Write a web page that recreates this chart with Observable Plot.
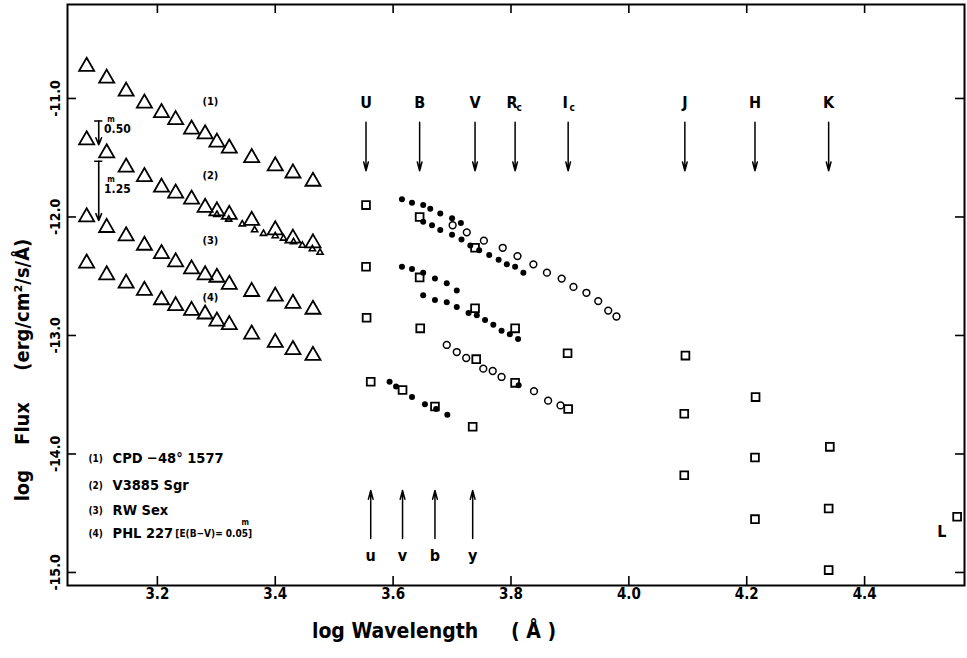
<!DOCTYPE html>
<html><head><meta charset="utf-8">
<script src="https://cdn.jsdelivr.net/npm/d3@7"></script>
<script src="https://cdn.jsdelivr.net/npm/@observablehq/plot@0.6"></script>
<style>
html,body{margin:0;padding:0;background:#fff;}
#chart svg text{font-weight:bold;}
</style></head><body><div id="chart"></div>
<script>
// ---------- axes ----------
const xDomain = [3.0475, 4.5695];
const yDomain = [-15.11, -10.207];
const xTicks = [3.2, 3.4, 3.6, 3.8, 4.0, 4.2, 4.4];
const yTicks = [-11, -12, -13, -14, -15];

// ---------- IUE ultraviolet fluxes (large triangles) ----------
const iueLogLam = [3.080, 3.114, 3.147, 3.178, 3.207, 3.231, 3.258, 3.281, 3.301, 3.322, 3.360, 3.400, 3.430, 3.464];
const iueFlux1 = [-10.73, -10.83, -10.94, -11.04, -11.12, -11.18, -11.26, -11.30, -11.37, -11.42, -11.50, -11.57, -11.63, -11.70];
const iueFlux2 = [-11.35, -11.46, -11.58, -11.66, -11.75, -11.80, -11.85, -11.92, -11.95, -11.98, -12.03, -12.11, -12.18, -12.22];
const iueFlux3 = [-12.00, -12.09, -12.16, -12.24, -12.31, -12.38, -12.44, -12.49, -12.51, -12.57, -12.63, -12.67, -12.73, -12.78];
const iueFlux4 = [-12.39, -12.49, -12.56, -12.62, -12.70, -12.75, -12.79, -12.82, -12.88, -12.91, -12.99, -13.06, -13.12, -13.17];

// second epoch (small triangles) for (2)
const iueSmallLogLam = [3.301, 3.321, 3.344, 3.365, 3.380, 3.400, 3.414, 3.431, 3.446, 3.463, 3.476];
const iueSmallFlux2 = [-11.98, -12.02, -12.06, -12.11, -12.14, -12.16, -12.18, -12.21, -12.24, -12.27, -12.30];

// ---------- optical spectrophotometry (filled dots) ----------
const specALogLam = [3.615, 3.632, 3.651, 3.663, 3.680, 3.700, 3.715];
const specAFlux = [-11.85, -11.88, -11.90, -11.93, -11.97, -12.01, -12.05];
const specBLogLam = [3.651, 3.666, 3.680, 3.700, 3.716, 3.731, 3.746, 3.763, 3.779, 3.793, 3.807, 3.821];
const specBFlux = [-12.04, -12.07, -12.11, -12.15, -12.19, -12.24, -12.28, -12.32, -12.36, -12.40, -12.42, -12.47];
const specCLogLam = [3.615, 3.632, 3.651, 3.671, 3.691, 3.708];
const specCFlux = [-12.42, -12.44, -12.47, -12.52, -12.56, -12.62];
const specDLogLam = [3.651, 3.671, 3.691, 3.708, 3.728, 3.742, 3.756, 3.770, 3.784, 3.798, 3.812];
const specDFlux = [-12.66, -12.70, -12.72, -12.76, -12.81, -12.83, -12.87, -12.91, -12.96, -12.99, -13.03];
const specELogLam = [3.594, 3.605, 3.632, 3.654, 3.673, 3.692, 3.813];
const specEFlux = [-13.39, -13.43, -13.52, -13.58, -13.62, -13.67, -13.42];

// ---------- spectrophotometry (open circles) ----------
const circALogLam = [3.701, 3.725, 3.754, 3.786, 3.811, 3.838, 3.861, 3.886, 3.906, 3.928, 3.948, 3.965, 3.979];
const circAFlux = [-12.07, -12.13, -12.20, -12.26, -12.33, -12.40, -12.47, -12.52, -12.59, -12.64, -12.71, -12.79, -12.84];
const circBLogLam = [3.691, 3.708, 3.724, 3.753, 3.769, 3.784, 3.839, 3.863, 3.884];
const circBFlux = [-13.08, -13.14, -13.19, -13.28, -13.30, -13.35, -13.47, -13.55, -13.59];

// ---------- broad-band photometry (open squares) ----------
const photLogLam = [3.554, 3.554, 3.555, 3.645, 3.645, 3.646, 3.739, 3.739, 3.741, 3.807, 3.807, 3.896, 3.897,
                    4.096, 4.094, 4.094, 4.215, 4.214, 4.214, 4.341, 4.339, 4.339, 4.557,
                    3.562, 3.616, 3.671, 3.735];
const photFlux = [-11.90, -12.42, -12.85, -12.00, -12.51, -12.94, -12.26, -12.77, -13.20, -12.94, -13.40, -13.15, -13.62,
                  -13.17, -13.66, -14.18, -13.52, -14.03, -14.55, -13.94, -14.46, -14.98, -14.53,
                  -13.39, -13.46, -13.60, -13.77];

// ---------- passbands ----------
const bandNames = ["U", "B", "V", "R", "I", "J", "H", "K"];
const bandSubs = ["", "", "", "c", "c", "", "", ""];
const bandLogLam = [3.554, 3.645, 3.739, 3.807, 3.897, 4.095, 4.214, 4.339];
const bandArrowFlux = [-11.20, -11.61];
const bandLabelFlux = -11.034;
const stromNames = ["u", "v", "b", "y"];
const stromLogLam = [3.562, 3.616, 3.671, 3.735];
const stromArrowFlux = [-14.713, -14.308];
const stromLabelFlux = -14.857;
const lBand = {name: "L", x: 4.531, y: -14.66};

// ---------- annotations ----------
const seriesTags = ["(1)", "(2)", "(3)", "(4)"];
const seriesTagFlux = [-11.023, -11.65, -12.198, -12.677];
const seriesTagLogLam = 3.29;
const offsetLabels = ["0.50", "1.25"];
const offsetTop = [-11.19, -11.53];
const offsetBottom = [-11.39, -12.03];
const offsetLabelFlux = [-11.262, -11.768];
const offsetLogLam = 3.1005;
const starTags = ["(1)", "(2)", "(3)", "(4)"];
const starNames = ["CPD \u221248\u00b0 1577", "V3885 Sgr", "RW Sex", "PHL 227"];
const starFlux = [-14.038, -14.266, -14.477, -14.671];
const reddeningNote = "[E(B\u2212V)= 0.05]";

const pts = (xs, ys) => xs.map((x, i) => ({x, y: ys[i]}));

const W = 967, H = 658, mL = 67, mR = 3, mT = 4, mB = 73;
const fw = W - mL - mR, fh = H - mT - mB, tk = 9;
const FONT = '"Liberation Sans Narrow","DejaVu Sans Condensed","Liberation Sans",sans-serif';

const bands = bandNames.map((n, i) => ({n, s: bandSubs[i], x: bandLogLam[i]}));
const stroms = stromNames.map((n, i) => ({n, x: stromLogLam[i]}));
const offs = offsetLabels.map((t, i) => ({t, x: offsetLogLam, y1: offsetTop[i], y2: offsetBottom[i], ly: offsetLabelFlux[i]}));
const stars = starNames.map((n, i) => ({tag: starTags[i], n, y: starFlux[i]}));

const chart = Plot.plot({
  width: W, height: H,
  marginLeft: mL, marginRight: mR, marginTop: mT, marginBottom: mB,
  x: {domain: xDomain},
  y: {domain: yDomain},
  style: {fontFamily: FONT, background: "white", color: "black"},
  marks: [
    Plot.frame({stroke: "black", strokeWidth: 2}),
    Plot.tickX(xTicks, {x: d => d, insetTop: fh - tk, strokeWidth: 1.6}),
    Plot.tickX(xTicks, {x: d => d, insetBottom: fh - tk, strokeWidth: 1.6}),
    Plot.tickY(yTicks, {y: d => d, insetRight: fw - tk, strokeWidth: 1.6}),
    Plot.tickY(yTicks, {y: d => d, insetLeft: fw - tk, strokeWidth: 1.6}),
    Plot.axisX({ticks: xTicks, tickSize: 0, tickPadding: 3, tickFormat: d => d.toFixed(1), fontSize: 15, label: null}),
    Plot.axisY({ticks: yTicks, tickSize: 0, tickPadding: 8, tickRotate: -90, tickFormat: d => d.toFixed(1), fontSize: 14, label: null}),
    Plot.text(["log Wavelength\u00a0\u00a0\u00a0\u00a0\u00a0(\u00a0\u00c5\u00a0)"], {frameAnchor: "bottom", dy: 52, dx: -82, fontSize: 21}),
    Plot.text(["log\u00a0\u00a0\u00a0\u00a0Flux\u00a0\u00a0\u00a0\u00a0\u00a0(erg/cm\u00b2/s/\u00c5)"], {frameAnchor: "left", textAnchor: "middle", dx: -45, dy: 75, rotate: -90, fontSize: 20}),

    // triangles
    Plot.dot(pts(iueLogLam, iueFlux1), {x: "x", y: "y", symbol: "triangle", r: 5.6, stroke: "black", strokeWidth: 1.8, fill: "none"}),
    Plot.dot(pts(iueLogLam, iueFlux2), {x: "x", y: "y", symbol: "triangle", r: 5.6, stroke: "black", strokeWidth: 1.8, fill: "none"}),
    Plot.dot(pts(iueLogLam, iueFlux3), {x: "x", y: "y", symbol: "triangle", r: 5.6, stroke: "black", strokeWidth: 1.8, fill: "none"}),
    Plot.dot(pts(iueLogLam, iueFlux4), {x: "x", y: "y", symbol: "triangle", r: 5.6, stroke: "black", strokeWidth: 1.8, fill: "none"}),
    Plot.dot(pts(iueSmallLogLam, iueSmallFlux2), {x: "x", y: "y", symbol: "triangle", r: 2.3, stroke: "black", strokeWidth: 1.6, fill: "none"}),

    // dots & circles
    Plot.dot(pts(specALogLam, specAFlux), {x: "x", y: "y", r: 3, fill: "black"}),
    Plot.dot(pts(specBLogLam, specBFlux), {x: "x", y: "y", r: 3, fill: "black"}),
    Plot.dot(pts(specCLogLam, specCFlux), {x: "x", y: "y", r: 3, fill: "black"}),
    Plot.dot(pts(specDLogLam, specDFlux), {x: "x", y: "y", r: 3, fill: "black"}),
    Plot.dot(pts(specELogLam, specEFlux), {x: "x", y: "y", r: 3, fill: "black"}),
    Plot.dot(pts(circALogLam, circAFlux), {x: "x", y: "y", r: 3.4, stroke: "black", strokeWidth: 1.5, fill: "none"}),
    Plot.dot(pts(circBLogLam, circBFlux), {x: "x", y: "y", r: 3.4, stroke: "black", strokeWidth: 1.5, fill: "none"}),

    // squares
    Plot.dot(pts(photLogLam, photFlux), {x: "x", y: "y", symbol: "square", r: 4.4, stroke: "black", strokeWidth: 1.8, fill: "none"}),

    // passband arrows and labels
    Plot.arrow(bands, {x1: "x", x2: "x", y1: () => bandArrowFlux[0], y2: () => bandArrowFlux[1], headLength: 9, headAngle: 30, strokeWidth: 1.5}),
    Plot.text(bands.filter(d => !d.s), {x: "x", y: () => bandLabelFlux, text: "n", fontSize: 16}),
    Plot.text(bands.filter(d => d.s), {x: "x", y: () => bandLabelFlux, text: "n", fontSize: 16, dx: -3}),
    Plot.text(bands.filter(d => d.s), {x: "x", y: () => bandLabelFlux, text: "s", fontSize: 10, dx: 4, dy: 5}),
    Plot.arrow(stroms, {x1: "x", x2: "x", y1: () => stromArrowFlux[0], y2: () => stromArrowFlux[1], headLength: 9, headAngle: 30, strokeWidth: 1.5}),
    Plot.text(stroms, {x: "x", y: () => stromLabelFlux, text: "n", fontSize: 16}),
    Plot.text([lBand], {x: "x", y: "y", text: "name", fontSize: 16}),

    // series tags
    Plot.text(seriesTags.map((t, i) => ({t, y: seriesTagFlux[i]})), {x: () => seriesTagLogLam, y: "y", text: "t", fontSize: 11}),

    // magnitude offset markers
    Plot.ruleY(offs, {y: "y1", x1: d => d.x - 0.007, x2: d => d.x + 0.007, strokeWidth: 1.5}),
    Plot.arrow(offs, {x1: "x", x2: "x", y1: "y1", y2: "y2", headLength: 7, headAngle: 45, strokeWidth: 1.6}),
    Plot.text(offs, {x: d => d.x + 0.009, y: "ly", text: "t", fontSize: 12, textAnchor: "start"}),
    Plot.text(offs, {x: d => d.x + 0.021, y: "ly", text: () => "m", fontSize: 8, dy: -10}),

    // star legend
    Plot.text(stars, {x: () => 3.083, y: "y", text: "tag", fontSize: 10, textAnchor: "start"}),
    Plot.text(stars, {x: () => 3.124, y: "y", text: "n", fontSize: 14.5, textAnchor: "start"}),
    Plot.text([reddeningNote], {x: () => 3.2305, y: () => starFlux[3], text: d => d, fontSize: 10, textAnchor: "start"}),
    Plot.text(["m"], {x: () => 3.349, y: () => -14.58, text: d => d, fontSize: 8})
  ]
});
document.getElementById("chart").appendChild(chart);
</script></body></html>
